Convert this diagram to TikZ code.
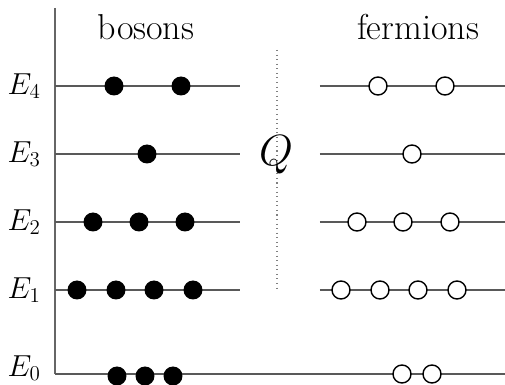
\documentclass[tikz,border=0pt]{standalone}
\usepackage{amsmath}
\usetikzlibrary{positioning}

\begin{document}
\begin{tikzpicture}[
    x=0.02cm, y=-0.02cm,
    level/.style={draw=black!65, line width=0.6pt},
    axis/.style={draw=black!60, line width=0.9pt},
    boson/.style={circle, fill=black, inner sep=0pt, minimum size=0.38cm},
    fermion/.style={circle, draw=black, fill=white, line width=0.8pt, inner sep=0pt, minimum size=0.36cm},
    elabel/.style={anchor=east, font=\fontsize{18.5}{20}\selectfont},
    title/.style={font=\fontsize{20.5}{22}\selectfont}
]
\useasboundingbox (0,0) rectangle (505,385);

% axis and titles
\coordinate (top) at (55,8);
\coordinate (bot) at (55,374);
\draw[axis] (top) -- (bot);
\node[title] (bos) at (146,27) {bosons};
\node[title] (fer) at (418,27) {fermions};

% energy levels
\foreach \n/\y in {4/86, 3/154, 2/222, 1/290} {
  \node[elabel] (e\n) at (47,\y) {$E_\n$};
  \coordinate (bl\n) at (55,\y);
  \coordinate (br\n) at (240,\y);
  \coordinate (fl\n) at (320,\y);
  \coordinate (fr\n) at (505,\y);
  \draw[level] (bl\n) -- (br\n);
  \draw[level] (fl\n) -- (fr\n);
}
\node[elabel] (e0) at (47,368) {$E_0$};
\coordinate (fr0) at (505,374);
\draw[level] (bot) -- (fr0);

% supercharge
\coordinate (qtop) at (277,50);
\coordinate (qbot) at (277,292);
\draw[black!50, dotted, line width=0.6pt] (qtop) -- (qbot);
\node[font=\fontsize{29}{31}\selectfont] (q) at (276,155) {$Q$};

% bosons
\foreach \x in {114,181} \node[boson] at (\x,86) {};
\node[boson] at (147,154) {};
\foreach \x in {93,139,185} \node[boson] at (\x,222) {};
\foreach \x in {77,116,154,193} \node[boson] at (\x,290) {};
\foreach \x in {117,145,173} \node[boson] at (\x,376) {};

% fermions
\foreach \x in {378,445} \node[fermion] at (\x,86) {};
\node[fermion] at (412,154) {};
\foreach \x in {357,403,450} \node[fermion] at (\x,222) {};
\foreach \x in {341,380,418,457} \node[fermion] at (\x,290) {};
\foreach \x in {402,432} \node[fermion] at (\x,374) {};
\end{tikzpicture}
\end{document}
